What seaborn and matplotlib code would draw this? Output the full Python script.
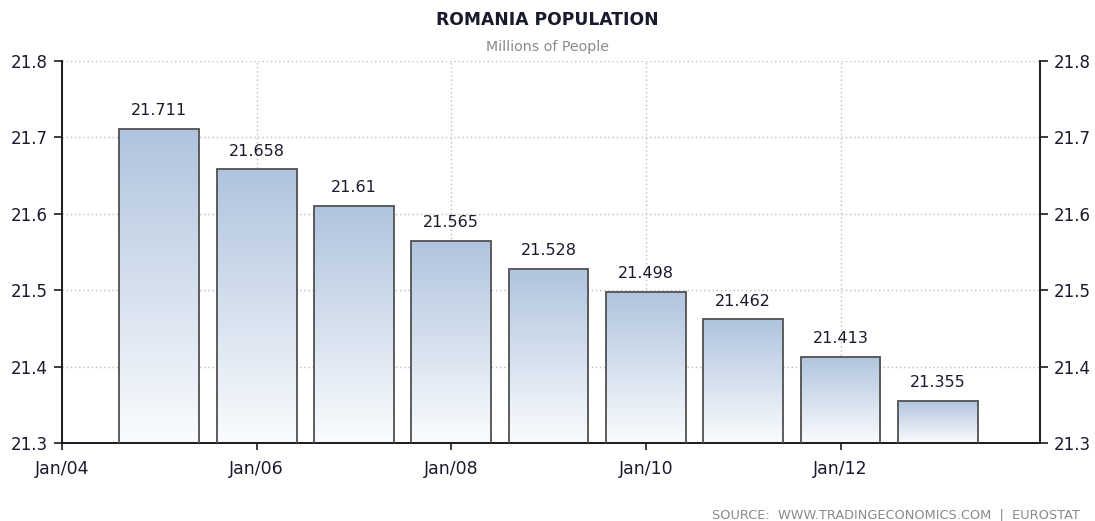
import numpy as np
import pandas as pd
import matplotlib
matplotlib.use("Agg")
import matplotlib.pyplot as plt
import seaborn as sns
from matplotlib.colors import LinearSegmentedColormap

years = [2005, 2006, 2007, 2008, 2009, 2010, 2011, 2012, 2013]
population = [21.711, 21.658, 21.61, 21.565, 21.528, 21.498, 21.462, 21.413, 21.355]
value_labels = ["21.711", "21.658", "21.61", "21.565", "21.528", "21.498", "21.462", "21.413", "21.355"]
xtick_pos = [2004, 2006, 2008, 2010, 2012]
xtick_labels = ["Jan/04", "Jan/06", "Jan/08", "Jan/10", "Jan/12"]
ytick_vals = [21.3, 21.4, 21.5, 21.6, 21.7, 21.8]

sns.set_theme(style="white")
plt.rcParams['font.family'] = ['DejaVu Sans']

df = pd.DataFrame({"year": years, "pop": population})

fig = plt.figure(figsize=(10.95, 5.21), dpi=100)
ax = fig.add_axes([0.0566, 0.1497, 0.8932, 0.7333])

sns.barplot(data=df, x="year", y="pop", native_scale=True, width=0.82,
            color="#b0c4de", edgecolor="#505050", linewidth=1.3, ax=ax, zorder=3)

# gradient fill
cmap = LinearSegmentedColormap.from_list("g", ["#fafcfe", "#b0c4de"])
grad = np.linspace(0, 1, 256).reshape(-1, 1)
for p in list(ax.patches):
    x0, y0 = p.get_x(), 21.3
    w, h = p.get_width(), p.get_y() + p.get_height()
    p.set_facecolor("none")
    im = ax.imshow(grad, cmap=cmap, origin="lower", aspect="auto",
                   extent=[x0, x0 + w, y0, h], zorder=2.5)
    im.set_clip_path(p)
ax.set_xlim(2004, 2014.05)
ax.set_ylim(21.3, 21.8)

for x, y, lab in zip(years, population, value_labels):
    ax.text(x, y + 0.014, lab, ha="center", va="bottom", fontsize=11.5, color="#1a1a2e", zorder=4)

ax.set_xticks(xtick_pos)
ax.set_xticklabels(xtick_labels)
ax.set_yticks(ytick_vals)
ax.set_yticklabels([f"{v:.1f}" for v in ytick_vals])
ax.tick_params(axis="both", direction="out", length=6, width=1.2, colors="#1a1a1a",
               labelcolor="#1a1a2e")
ax.tick_params(axis="y", left=True, right=True, labelleft=True, labelright=True, pad=4,
               labelsize=12)
ax.tick_params(axis="x", bottom=True, length=5, pad=7, labelsize=12.5)
ax.set_xlabel("")
ax.set_ylabel("")

ax.grid(True, linestyle=(0, (1, 2)), color="#bdbdbd", linewidth=1.0, zorder=0)
ax.set_axisbelow(True)
ax.spines["top"].set_visible(False)
for s in ["left", "right", "bottom"]:
    ax.spines[s].set_visible(True)
    ax.spines[s].set_color("#1a1a1a")
    ax.spines[s].set_linewidth(1.4)

fig.text(0.5, 1 - 20 / 521, "ROMANIA POPULATION", ha="center", va="center",
         fontsize=12.3, fontweight="bold", color="#1a1a2e")
fig.text(0.5, 1 - 47 / 521, "Millions of People", ha="center", va="center",
         fontsize=10.2, color="#8a8a8a")
fig.text(1080 / 1095, 1 - 515 / 521, "SOURCE:  WWW.TRADINGECONOMICS.COM  |  EUROSTAT",
         ha="right", va="center", fontsize=9.3, color="#8a8a8a")

fig.savefig("out.png", dpi=100)
